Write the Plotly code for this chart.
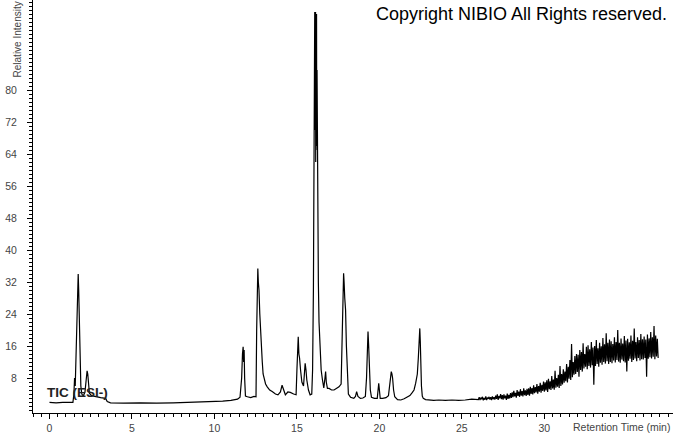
import plotly.graph_objects as go

# ---- Data (retention time in min, relative intensity) ----
peak_times = [
    0.0, 0.4, 0.8, 1.2, 1.42, 1.48, 1.52, 1.56, 1.60, 1.65, 1.70, 1.74, 1.77, 1.80, 1.85, 1.90,
    1.96, 2.05, 2.15, 2.22, 2.28, 2.32, 2.36, 2.42, 2.55, 2.8, 3.1, 3.4, 3.5, 3.7, 4.5, 5.5,
    6.5, 7.5, 8.5, 9.5, 10.5, 11.0, 11.4, 11.55, 11.65, 11.70, 11.74, 11.77, 11.80, 11.83, 11.88,
    12.0, 12.2, 12.4, 12.52, 12.56, 12.60, 12.63, 12.66, 12.70, 12.75, 12.80, 12.85, 12.90, 12.95,
    13.0, 13.1, 13.2, 13.35, 13.5, 13.7, 13.85, 14.0, 14.1, 14.2, 14.3, 14.45, 14.6, 14.8, 14.95,
    15.0, 15.05, 15.08, 15.12, 15.16, 15.22, 15.3, 15.4, 15.45, 15.50, 15.55, 15.6, 15.7, 15.8,
    15.9, 15.95, 16.0, 16.03, 16.06, 16.08, 16.10, 16.11, 16.12, 16.13, 16.14, 16.15, 16.16,
    16.17, 16.18, 16.19, 16.20, 16.22, 16.24, 16.26, 16.28, 16.30, 16.34, 16.40, 16.47, 16.55,
    16.63, 16.70, 16.74, 16.78, 16.85, 16.95, 17.1, 17.25, 17.4, 17.55, 17.68, 17.74, 17.79,
    17.83, 17.86, 17.90, 17.95, 18.0, 18.05, 18.12, 18.25, 18.45, 18.55, 18.62, 18.7, 18.85,
    19.0, 19.15, 19.22, 19.27, 19.31, 19.35, 19.40, 19.45, 19.52, 19.7, 19.87, 19.92, 19.96,
    20.0, 20.05, 20.2, 20.4, 20.55, 20.62, 20.68, 20.72, 20.76, 20.80, 20.86, 20.93, 21.1, 21.3,
    21.5, 21.7, 21.85, 22.0, 22.1, 22.2, 22.3, 22.36, 22.41, 22.45, 22.48, 22.51, 22.55, 22.6,
    22.66, 22.8, 23.0, 23.3, 23.6, 24.0, 24.4, 24.8, 25.2, 25.6,
]
peak_values = [
    1.9, 1.8, 1.9, 1.8, 1.9, 4.0, 8.0, 6.0, 12.0, 24.0, 33.5, 34.0, 30.0, 22.0, 12.0, 6.0,
    4.0, 3.5, 4.5, 7.0, 9.8, 9.0, 6.5, 4.2, 3.6, 3.3, 3.1, 2.9, 2.1, 1.8, 1.7, 1.8,
    1.7, 1.8, 1.9, 2.0, 2.2, 2.4, 2.7, 3.2, 8.0, 14.0, 15.8, 12.0, 15.0, 8.0, 3.5,
    3.3, 3.1, 3.4, 3.3, 20.0, 33.0, 35.4, 32.0, 30.0, 24.0, 19.0, 16.0, 12.0, 9.0,
    8.0, 6.5, 5.8, 5.0, 4.6, 4.0, 3.8, 4.5, 6.2, 5.0, 3.8, 4.5, 4.4, 4.0, 3.8,
    10.0, 17.0, 18.3, 14.0, 13.0, 10.0, 7.0, 6.0, 10.0, 11.7, 10.0, 7.5, 5.0, 3.8,
    4.0, 10.0, 30.0, 55.0, 80.0, 99.5, 70.0, 99.0, 65.0, 99.5, 62.0, 99.0, 65.0,
    98.0, 70.0, 99.0, 66.0, 85.0, 60.0, 47.0, 40.0, 32.0, 22.0, 15.0, 10.0, 7.5,
    5.5, 8.0, 9.6, 7.0, 5.4, 5.4, 5.0, 5.0, 5.4, 5.8, 6.5, 15.0, 28.0,
    34.2, 32.0, 28.0, 25.0, 16.0, 9.0, 4.0, 3.2, 2.9, 3.4, 4.6, 3.4, 2.9,
    3.0, 3.4, 8.0, 17.0, 19.6, 16.0, 10.0, 5.0, 3.2, 2.9, 2.9, 5.0, 6.7,
    5.0, 2.9, 2.9, 3.1, 3.6, 6.5, 9.0, 9.6, 9.0, 8.0, 5.0, 3.3, 2.6, 2.5,
    2.8, 3.3, 3.6, 4.4, 5.0, 6.7, 9.0, 13.0, 18.0, 20.4, 17.0, 11.0, 6.0, 3.5,
    2.9, 2.6, 2.5, 2.4, 2.5, 2.4, 2.5, 2.4, 2.5, 2.7,
]

# noisy late-eluting region, sampled every 0.05 min from 26.0 min
noise_start = 26.0
noise_step = 0.05
noise_values = [
    2.6, 3.2, 2.5, 3.1, 2.7, 3.3, 2.4, 3.0, 2.6, 3.4, 2.5, 3.1, 2.8, 3.3, 2.6, 3.2, 2.5, 3.4, 2.7, 3.2,
    2.6, 3.6, 2.8, 3.9, 2.5, 3.5, 2.9, 4.0, 2.7, 3.7, 2.6, 3.9, 2.9, 3.6, 2.5, 4.1, 2.8, 3.8, 2.9, 4.2,
    3.0, 4.4, 3.2, 4.8, 3.4, 4.3, 3.1, 5.0, 3.5, 4.6, 3.3, 5.2, 3.6, 4.7, 3.4, 5.4, 3.7, 4.9, 3.5, 5.3,
    3.8, 5.4, 3.6, 5.8, 4.0, 5.5, 3.9, 6.2, 4.2, 5.7, 4.4, 6.5, 4.1, 6.0, 4.6, 6.8, 4.3, 6.3, 4.8, 7.1,
    4.6, 6.9, 4.9, 7.4, 4.5, 7.8, 5.2, 7.2, 5.0, 8.5, 5.4, 7.6, 5.1, 9.8, 5.6, 8.0, 5.8, 8.8, 5.5, 11.0,
    6.0, 9.0, 6.4, 10.2, 6.8, 9.6, 7.2, 11.5, 6.9, 10.8, 7.8, 12.5, 7.5, 16.5, 8.2, 12.0, 8.8, 13.5, 9.0, 14.0,
    9.5, 13.8, 8.3, 15.0, 10.0, 14.5, 9.6, 16.7, 10.4, 14.0, 10.8, 15.8, 10.2, 16.2, 11.0, 15.2, 10.6, 17.0, 11.2, 15.6,
    6.3, 16.0, 11.0, 17.5, 11.5, 15.4, 10.8, 16.8, 11.8, 15.9, 11.3, 18.0, 12.0, 16.4, 11.6, 19.2, 12.2, 16.8, 11.5, 17.6,
    12.0, 17.2, 11.7, 16.5, 12.4, 18.2, 11.9, 17.0, 12.5, 20.0, 12.1, 16.8, 11.8, 17.9, 12.6, 16.6, 12.2, 18.5, 11.9, 17.4,
    9.6, 17.8, 12.3, 16.9, 12.8, 18.6, 12.0, 17.3, 12.5, 20.4, 12.9, 17.0, 12.2, 18.2, 13.0, 17.5, 12.4, 19.0, 12.7, 17.7,
    12.6, 18.4, 13.0, 17.6, 8.3, 18.9, 12.8, 17.9, 13.2, 19.5, 12.9, 18.2, 13.3, 21.0, 12.7, 18.6, 13.4, 17.8, 13.0,
]
noise_times = [round(noise_start + i * noise_step, 3) for i in range(len(noise_values))]

x_ticks = [0, 5, 10, 15, 20, 25, 30]
y_ticks = [8, 16, 24, 32, 40, 48, 56, 64, 72, 80]

times = peak_times + noise_times
values = peak_values + noise_values

FONT = "Liberation Sans, Arial, sans-serif"

fig = go.Figure()
fig.add_trace(go.Scatter(
    x=times, y=values, mode="lines",
    line=dict(color="black", width=1.2),
    showlegend=False, hoverinfo="skip",
))

fig.update_layout(
    width=673, height=433,
    margin=dict(l=33, r=0, t=0, b=20),
    plot_bgcolor="white", paper_bgcolor="white",
    font=dict(family=FONT, size=10.5, color="#444"),
    hovermode=False,
    xaxis=dict(
        range=[-1.0, 37.8], showgrid=False, zeroline=False,
        showline=True, linecolor="black", linewidth=1,
        ticks="outside", ticklen=5, tickcolor="black", tickwidth=1,
        tickmode="array", tickvals=x_ticks, ticktext=[str(v) for v in x_ticks],
        tickfont=dict(family=FONT, size=10.5, color="#444"),
        minor=dict(ticks="outside", ticklen=3, tickcolor="black", dtick=0.5, tick0=0, showgrid=False),
    ),
    yaxis=dict(
        range=[-0.75, 102.5], showgrid=False, zeroline=False,
        showline=True, linecolor="black", linewidth=1,
        ticks="outside", ticklen=5, tickcolor="black", tickwidth=1,
        tickmode="array", tickvals=y_ticks, ticktext=[str(v) for v in y_ticks],
        tickfont=dict(family=FONT, size=10.5, color="#444"),
        ticklabelstandoff=8,
        minor=dict(ticks="outside", ticklen=3, tickcolor="black", dtick=1, tick0=0, showgrid=False),
    ),
    annotations=[
        dict(text="Copyright NIBIO All Rights reserved.", xref="paper", yref="paper",
             x=0.763, y=0.966, xanchor="center", yanchor="middle", showarrow=False,
             font=dict(family=FONT, size=18, color="black")),
        dict(text="<b>TIC (ESI-)</b>", xref="paper", yref="paper",
             x=0.0695, y=0.0508, xanchor="center", yanchor="middle", showarrow=False,
             font=dict(family=FONT, size=13.5, color="#222")),
        dict(text="Retention Time (min)", xref="paper", yref="paper",
             x=0.920, y=-0.0339, xanchor="center", yanchor="middle", showarrow=False,
             font=dict(family=FONT, size=10.5, color="#444")),
        dict(text="Relative Intensity", xref="paper", yref="paper", textangle=-90,
             x=-0.0227, y=0.9056, xanchor="center", yanchor="middle", showarrow=False,
             font=dict(family=FONT, size=10, color="#444")),
    ],
)

fig.write_html(
    "out.html",
    config={"displayModeBar": False},
    post_script="document.body.style.margin='0px';document.body.style.overflow='hidden';",
)
